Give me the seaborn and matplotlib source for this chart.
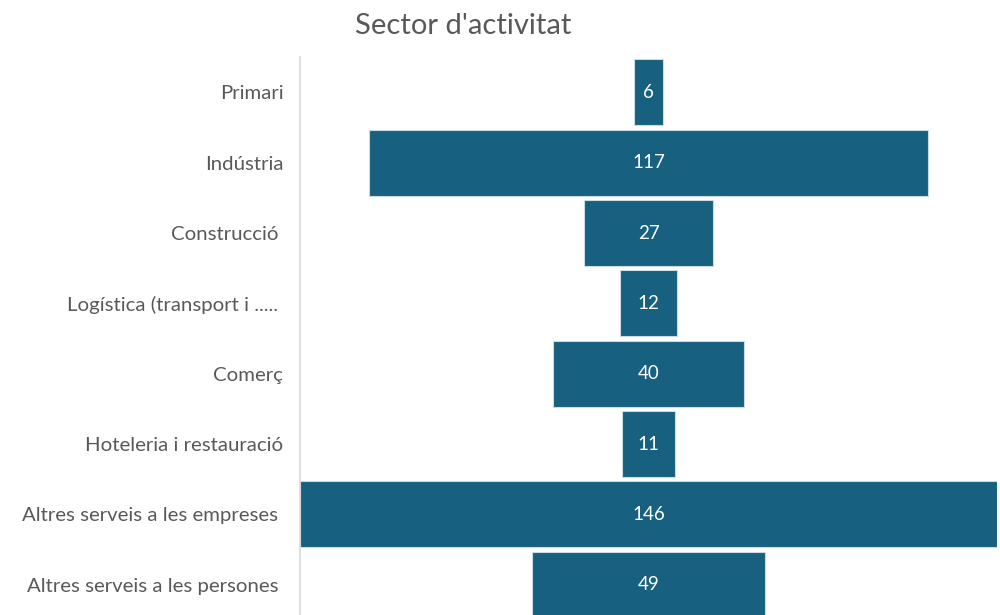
import matplotlib
matplotlib.use("Agg")
import matplotlib.pyplot as plt
import seaborn as sns
import pandas as pd

categories = [
    "Primari",
    "Indústria",
    "Construcció ",
    "Logística (transport i ..... ",
    "Comerç",
    "Hoteleria i restauració",
    "Altres serveis a les empreses ",
    "Altres serveis a les persones ",
]
values = [6, 117, 27, 12, 40, 11, 146, 49]
title = "Sector d'activitat"

bar_color = "#17607f"
text_color = "#595959"

sns.set_theme(style="white")
plt.rcParams["font.family"] = ["Lato", "DejaVu Sans"]

df = pd.DataFrame({"sector": categories, "n": values})

fig = plt.figure(figsize=(10, 6.15), dpi=100)
ax = fig.add_axes([0.300, 0.0, 0.697, 0.907])

sns.barplot(data=df, x="n", y="sector", orient="h", color=bar_color,
            saturation=1, width=0.94, edgecolor="#c9dbe4", linewidth=0.8, ax=ax)

# centre each bar on zero to form a funnel
for patch, v in zip(ax.patches, values):
    patch.set_x(-v / 2)
    patch.set_width(v)
    ax.text(0, patch.get_y() + patch.get_height() / 2, f"{v}",
            ha="center", va="center", color="white", fontsize=13.5)

half = max(values) / 2
ax.set_xlim(-half, half)
ax.set_ylim(7.43, -0.5)

ax.set_xlabel("")
ax.set_ylabel("")
ax.set_xticks([])
ax.tick_params(axis="y", length=0, pad=12, labelsize=14.7, labelcolor=text_color)

for side in ["top", "right", "bottom"]:
    ax.spines[side].set_visible(False)
ax.spines["left"].set_color("#d9d9d9")
ax.spines["left"].set_linewidth(1.2)

fig.text(0.463, 0.957, title, ha="center", va="center", fontsize=21,
         color=text_color)

fig.savefig("out.png", dpi=100)
